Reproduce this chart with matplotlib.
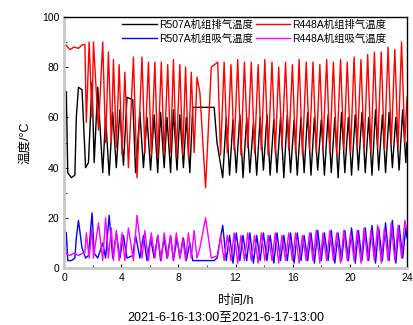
import matplotlib
matplotlib.use("Agg")
import matplotlib.pyplot as plt
from matplotlib.ticker import MultipleLocator

plt.rcParams["font.family"] = ["Liberation Sans", "Noto Sans CJK SC", "DejaVu Sans"]

labels = ["R507A机组排气温度", "R448A机组排气温度", "R507A机组吸气温度", "R448A机组吸气温度"]

# R448A unit: discharge (red) and suction (magenta) share the time points
t448 = [0.0, 0.1, 0.4, 0.7, 1.0, 1.3, 1.45, 1.55, 1.75, 1.95, 2.05, 2.4, 2.7, 2.9, 3.1, 3.3,
        3.45, 3.65, 3.85, 4.05, 4.25, 4.5, 4.85, 5.1, 5.45, 5.65, 5.9, 6.1, 6.35, 6.55, 6.8,
        7.0, 7.25, 7.45, 7.65, 7.85, 8.1, 8.3, 8.5, 8.7, 8.9, 9.1, 9.3, 9.5, 9.9, 10.3, 10.75,
        10.95,
        11.2, 11.42, 11.68, 11.9, 12.15, 12.38, 12.62, 12.85, 13.1, 13.33, 13.58, 13.8,
        14.05, 14.28, 14.55, 14.78, 15.02, 15.25, 15.5, 15.72, 15.98, 16.2, 16.45, 16.68,
        16.95, 17.18, 17.42, 17.65, 17.9, 18.12, 18.38, 18.6, 18.85, 19.08, 19.35, 19.58,
        19.82, 20.05, 20.3, 20.52, 20.78, 21.0, 21.25, 21.48, 21.72, 21.95, 22.2, 22.42,
        22.68, 22.9, 23.15, 23.38, 23.62, 23.85, 24.0]
dis448 = [88, 89, 87, 88, 87.5, 89, 89, 58, 90, 60, 90, 55, 90, 50, 86, 50,
          83, 48, 81, 45, 78, 40, 84, 36, 84, 46, 82, 45, 82, 44, 82,
          45, 81, 46, 83, 44, 81, 45, 80, 44, 78, 46, 76, 70, 32, 80, 82,
          45,
          82, 46, 81, 47, 83, 45, 82, 48, 82, 46, 81, 47,
          83, 45, 82, 46, 80, 48, 82, 47, 81, 46, 83, 45,
          82, 47, 82, 46, 81, 48, 83, 46, 82, 45, 83, 47,
          82, 46, 84, 48, 83, 47, 85, 46, 86, 48, 86, 47,
          88, 49, 87, 48, 90, 50, 68]
suc448 = [15, 6, 5, 6, 5, 6, 6, 14, 4, 16, 4, 18, 3, 20, 4, 16,
          3, 15, 3, 14, 3, 16, 3, 21, 4, 15, 3, 14, 4, 13, 3,
          14, 4, 13, 3, 14, 4, 12, 3, 14, 4, 15, 4, 8, 20, 4, 5,
          13,
          3, 13, 3, 14, 2, 13, 3, 14, 3, 13, 2, 14,
          3, 13, 3, 14, 2, 13, 3, 14, 3, 14, 2, 13,
          3, 14, 3, 15, 2, 14, 3, 15, 3, 14, 2, 15,
          3, 14, 3, 15, 2, 16, 3, 15, 3, 17, 2, 16,
          3, 18, 3, 17, 4, 19, 15]

# R507A unit: discharge (black) and suction (blue)
t507 = [0.0, 0.15, 0.25, 0.5, 0.75, 0.85, 1.0, 1.25, 1.5, 1.7, 1.95, 2.1, 2.35, 2.7, 2.9,
        3.15, 3.4, 3.65, 3.9, 4.15, 4.4, 4.8, 5.0, 5.3, 5.55, 5.8, 6.05, 6.3, 6.55, 6.75,
        7.0, 7.2, 7.45, 7.65, 7.9, 8.1, 8.35, 8.55, 8.8, 9.0, 10.5, 10.7, 11.1,
        11.35, 11.58, 11.82, 12.05, 12.3, 12.52, 12.78, 13.0, 13.25, 13.48, 13.72, 13.95,
        14.2, 14.42, 14.68, 14.9, 15.15, 15.38, 15.62, 15.85, 16.1, 16.32, 16.58, 16.8,
        17.05, 17.28, 17.52, 17.75, 18.0, 18.22, 18.48, 18.7, 18.95, 19.18, 19.42, 19.65,
        19.9, 20.12, 20.38, 20.6, 20.85, 21.08, 21.32, 21.55, 21.8, 22.02, 22.28, 22.5,
        22.75, 22.98, 23.22, 23.45, 23.7, 23.92, 24.0]
dis507 = [71, 70, 38, 36, 37, 60, 72, 71, 40, 42, 74, 42, 72, 38, 60,
          37, 62, 40, 63, 41, 68, 67, 38, 62, 40, 60, 39, 61, 38, 62,
          40, 60, 38, 63, 39, 61, 40, 60, 38, 64, 64, 50, 36,
          60, 37, 59, 38, 61, 36, 60, 38, 58, 37, 60, 39,
          61, 37, 59, 38, 60, 36, 61, 38, 59, 37, 60, 38,
          62, 37, 60, 39, 59, 37, 61, 38, 60, 36, 62, 38,
          60, 37, 61, 39, 62, 38, 60, 37, 63, 39, 61, 38,
          62, 40, 60, 39, 63, 42, 50]
suc507 = [15, 14, 3, 3, 4, 12, 19, 8, 4, 5, 22, 6, 4, 10, 4,
          21, 4, 14, 4, 13, 4, 5, 13, 4, 13, 3, 12, 4, 13, 3,
          12, 4, 13, 3, 12, 4, 12, 3, 10, 3, 3, 4, 17,
          3, 13, 2, 14, 3, 13, 3, 14, 2, 13, 3, 14,
          3, 13, 2, 14, 3, 13, 3, 14, 2, 14, 3, 13,
          3, 14, 2, 15, 3, 14, 3, 15, 2, 14, 3, 15,
          3, 16, 2, 15, 3, 16, 3, 17, 2, 16, 3, 18,
          3, 19, 2, 17, 4, 16, 12]

fig = plt.figure(figsize=(4.14, 3.25), dpi=100)
ax = fig.add_axes([0.155, 0.175, 0.828, 0.773])

l_d507, = ax.plot(t507, dis507, color="#000000", lw=1.0, label=labels[0])
l_d448, = ax.plot(t448, dis448, color="#ff0000", lw=1.0, label=labels[1])
l_s507, = ax.plot(t507, suc507, color="#0000ff", lw=1.0, label=labels[2])
l_s448, = ax.plot(t448, suc448, color="#ff00ff", lw=1.0, label=labels[3])

ax.set_xlim(0, 24); ax.set_ylim(0, 100)
ax.xaxis.set_major_locator(MultipleLocator(4)); ax.xaxis.set_minor_locator(MultipleLocator(2))
ax.yaxis.set_major_locator(MultipleLocator(20)); ax.yaxis.set_minor_locator(MultipleLocator(10))
ax.tick_params(which="both", direction="in", labelsize=7.5, color="#222222")
ax.tick_params(which="major", length=3); ax.tick_params(which="minor", length=2)
for s in ["left", "bottom"]:
    ax.spines[s].set_color("#c8c8c8"); ax.spines[s].set_linewidth(2)
for s in ["top", "right"]:
    ax.spines[s].set_color("#000000"); ax.spines[s].set_linewidth(1)

ax.set_ylabel("温度/°C", fontsize=9, labelpad=8)
ax.set_xlabel("时间/h", fontsize=9, labelpad=9)
fig.text(0.545, 0.015, "2021-6-16-13:00至2021-6-17-13:00", fontsize=9, ha="center")

# column-wise fill: R507A entries in the first column, R448A in the second
ax.legend([l_d507, l_s507, l_d448, l_s448],
          [labels[0], labels[2], labels[1], labels[3]],
          ncol=2, loc="upper left", bbox_to_anchor=(0.17, 0.99), frameon=False,
          fontsize=7.5, handlelength=3.3, handletextpad=0.2, columnspacing=0.3,
          labelspacing=0.4, borderpad=0, borderaxespad=0)

fig.savefig("out.png", dpi=100)
